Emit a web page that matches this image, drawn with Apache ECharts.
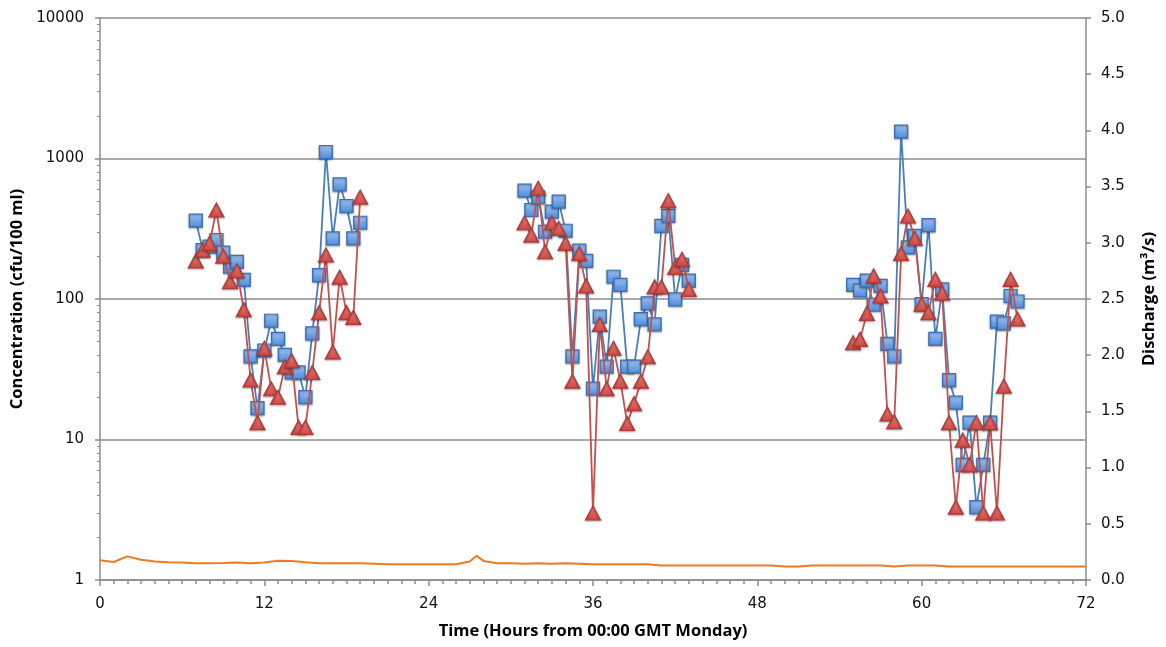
<!DOCTYPE html>
<html>
<head>
  <title>concentration</title>
  <meta http-equiv="content-type" content="text/html; charset=utf-8">
  <script src="https://cdn.jsdelivr.net/npm/echarts@6/dist/echarts.min.js"></script>
  <style type="text/css">
    body {
      margin: 0;
      padding: 0;
      background: #fff;
    }
    .chart-box {
      width: 1166px;
      height: 647px;
    }
  </style>
</head>
<body>
<div id="main" class="chart-box"></div>
<script>
  // sample times (hours from 00:00 GMT Monday), one per half hour
  var hours1 = [7, 7.5, 8, 8.5, 9, 9.5, 10, 10.5, 11, 11.5, 12, 12.5, 13, 13.5, 14, 14.5, 15, 15.5, 16, 16.5, 17, 17.5, 18, 18.5, 19];
  var hours2 = [31, 31.5, 32, 32.5, 33, 33.5, 34, 34.5, 35, 35.5, 36, 36.5, 37, 37.5, 38, 38.5, 39, 39.5, 40, 40.5, 41, 41.5, 42, 42.5, 43];
  var hours3 = [55, 55.5, 56, 56.5, 57, 57.5, 58, 58.5, 59, 59.5, 60, 60.5, 61, 61.5, 62, 62.5, 63, 63.5, 64, 64.5, 65, 65.5, 66, 66.5, 67];

  // blue squares (cfu/100 ml)
  var blue1 = [361, 223, 236, 263, 214, 170, 184, 137, 39, 16.7, 43, 70, 52, 40, 30, 30, 20, 57, 148, 1112, 270, 655, 459, 270, 349];
  var blue2 = [590, 430, 530, 301, 418, 493, 306, 39, 221, 187, 23, 75, 33, 144, 126, 33, 33, 72, 93, 66, 331, 391, 99.5, 175, 135];
  var blue3 = [126, 115, 135, 91, 124, 48, 39, 1552, 233, 281, 92, 336, 52, 117, 26.5, 18.3, 6.6, 13.2, 3.3, 6.6, 13.2, 69, 67, 105, 96];

  // red triangles (cfu/100 ml)
  var red1 = [187, 223, 249, 430, 202, 133, 159, 84, 26.5, 13.2, 44.6, 23, 20, 33, 36.4, 12.2, 12.2, 30, 80, 206, 42, 143, 80, 74, 530];
  var red2 = [349, 285, 614, 217, 349, 318, 249, 26, 211, 124, 3, 66, 23, 44.6, 26, 13, 18, 26, 38.8, 122, 122, 501, 168, 192, 117];
  var red3 = [48.9, 51.6, 79, 146, 105, 15.2, 13.4, 211, 390, 270, 92, 80, 138, 110, 13.2, 3.3, 9.9, 6.6, 13.2, 3.0, 13.2, 3.0, 24, 138, 72];

  // discharge (m3/s)
  var dischargeHours = [0, 1, 2, 3, 4, 5, 6, 7, 8, 9, 10, 11, 12, 13, 14, 15, 16, 17, 18, 19, 20, 21, 22, 23, 24, 25, 26, 27, 27.5, 28, 29, 30, 31, 32, 33, 34, 35, 36, 37, 38, 39, 40, 41, 42, 43, 44, 45, 46, 47, 48, 49, 50, 51, 52, 53, 54, 55, 56, 57, 58, 59, 60, 61, 62, 63, 64, 65, 66, 67, 68, 69, 70, 71, 72];
  var discharge = [0.175, 0.16, 0.21, 0.18, 0.165, 0.158, 0.155, 0.15, 0.15, 0.152, 0.155, 0.15, 0.155, 0.172, 0.168, 0.158, 0.15, 0.15, 0.15, 0.15, 0.145, 0.14, 0.14, 0.14, 0.14, 0.14, 0.14, 0.165, 0.215, 0.17, 0.15, 0.148, 0.145, 0.15, 0.145, 0.15, 0.145, 0.14, 0.14, 0.14, 0.14, 0.14, 0.13, 0.13, 0.13, 0.13, 0.13, 0.13, 0.13, 0.13, 0.13, 0.12, 0.12, 0.13, 0.13, 0.13, 0.13, 0.13, 0.13, 0.12, 0.13, 0.13, 0.13, 0.12, 0.12, 0.12, 0.12, 0.12, 0.12, 0.12, 0.12, 0.12, 0.12, 0.12];

  var xTicks = [0, 12, 24, 36, 48, 60, 72];

  function pairs(xs, ys) {
    return xs.map(function (x, i) { return [x, ys[i]]; });
  }

  var axisGrey = '#8c8c8c';
  var labelFont = {color: '#111', fontFamily: 'DejaVu Sans', fontSize: 15};
  var nameFont = {color: '#000', fontFamily: 'Open Sans', fontWeight: 'bold', fontSize: 16.5};

  var blueMarker = {
    color: new echarts.graphic.LinearGradient(0, 0, 0, 1, [
      {offset: 0, color: '#9cc3f2'},
      {offset: 1, color: '#4f8ad8'}
    ]),
    borderColor: '#3a6fb5',
    borderWidth: 1.2,
    shadowColor: 'rgba(0,0,0,0.3)',
    shadowBlur: 2,
    shadowOffsetY: 1
  };
  var redMarker = {
    color: new echarts.graphic.LinearGradient(0, 0, 0, 1, [
      {offset: 0, color: '#ee7d78'},
      {offset: 1, color: '#cc4844'}
    ]),
    borderColor: '#b03c38',
    borderWidth: 1.2,
    shadowColor: 'rgba(0,0,0,0.3)',
    shadowBlur: 2,
    shadowOffsetY: 1
  };

  function blueSeries(xs, ys) {
    return {
      type: 'line', yAxisIndex: 0, z: 3,
      data: pairs(xs, ys),
      symbol: 'rect', symbolSize: 13, showAllSymbol: true,
      lineStyle: {color: '#4a7ebb', width: 1.8},
      itemStyle: blueMarker
    };
  }
  function redSeries(xs, ys) {
    return {
      type: 'line', yAxisIndex: 0, z: 4,
      data: pairs(xs, ys),
      symbol: 'triangle', symbolSize: [15, 14], showAllSymbol: true,
      lineStyle: {color: '#c4504c', width: 1.8},
      itemStyle: redMarker
    };
  }

  var myChart = echarts.init(document.getElementById('main'));
  var option = {
    animation: false,
    backgroundColor: '#fff',
    grid: {left: 100, right: 79, top: 18, bottom: 67},
    xAxis: {
      type: 'value',
      min: xTicks[0],
      max: xTicks[xTicks.length - 1],
      interval: 12,
      name: 'Time (Hours from 00:00 GMT Monday)',
      nameLocation: 'middle',
      nameGap: 43,
      nameTextStyle: nameFont,
      axisLine: {lineStyle: {color: axisGrey, width: 1.5}},
      axisTick: {length: 6, lineStyle: {color: axisGrey, width: 1.5}},
      minorTick: {show: true, splitNumber: 12, length: 4, lineStyle: {color: axisGrey, width: 1.5}},
      axisLabel: Object.assign({margin: 17}, labelFont),
      splitLine: {show: false}
    },
    yAxis: [{
      type: 'log',
      logBase: 10,
      min: 1,
      max: 10000,
      name: 'Concentration (cfu/100 ml)',
      nameLocation: 'middle',
      nameRotate: 90,
      nameGap: 73,
      nameTextStyle: nameFont,
      axisLine: {show: true, lineStyle: {color: axisGrey, width: 1.5}},
      axisTick: {show: true, length: 5, lineStyle: {color: axisGrey, width: 1.5}},
      minorTick: {show: true, splitNumber: 9, length: 3, lineStyle: {color: axisGrey, width: 1}},
      axisLabel: Object.assign({
        margin: 16,
        formatter: function (v) { return String(Math.round(v)); }
      }, labelFont),
      splitLine: {show: true, lineStyle: {color: axisGrey, width: 1.5}}
    }, {
      type: 'value',
      min: 0,
      max: 5,
      interval: 0.5,
      position: 'right',
      name: 'Discharge (m\u00b3/s)',
      nameLocation: 'middle',
      nameRotate: 90,
      nameGap: 55,
      nameTextStyle: nameFont,
      axisLine: {show: true, lineStyle: {color: axisGrey, width: 1.5}},
      axisTick: {show: true, length: 5, lineStyle: {color: axisGrey, width: 1.5}},
      axisLabel: Object.assign({
        margin: 15,
        formatter: function (v) { return v.toFixed(1); }
      }, labelFont),
      splitLine: {show: false}
    }],
    series: [
      {
        type: 'line', yAxisIndex: 1, z: 2,
        data: pairs(dischargeHours, discharge),
        symbol: 'none',
        lineStyle: {color: '#ee7a22', width: 2}
      },
      blueSeries(hours1, blue1),
      blueSeries(hours2, blue2),
      blueSeries(hours3, blue3),
      redSeries(hours1, red1),
      redSeries(hours2, red2),
      redSeries(hours3, red3)
    ]
  };
  myChart.setOption(option);
</script>
</body>
</html>
